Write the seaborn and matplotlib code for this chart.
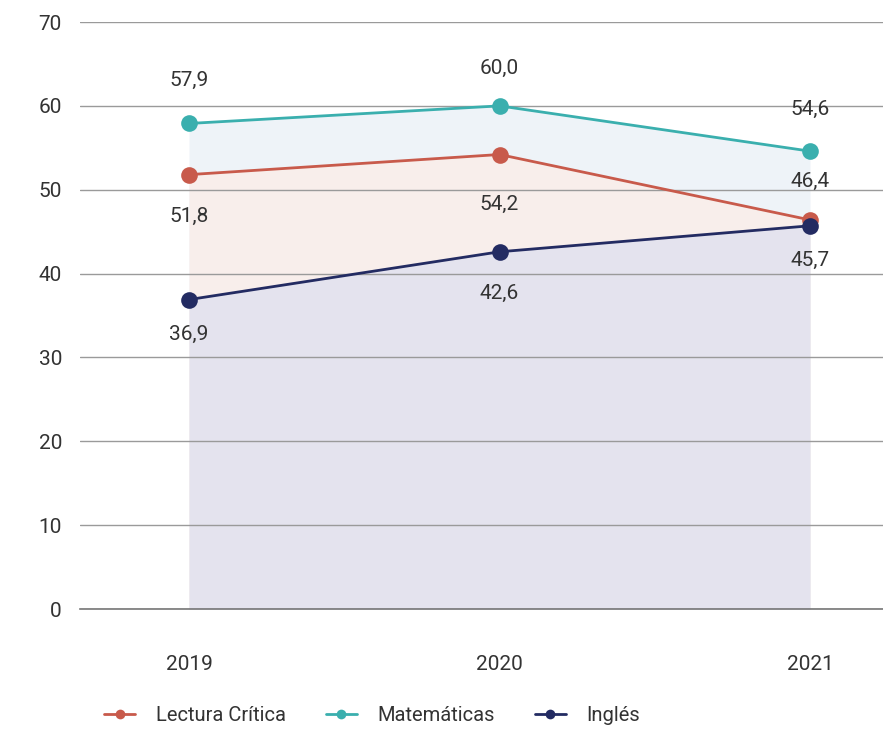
import matplotlib
matplotlib.use('Agg')
import matplotlib.pyplot as plt
import pandas as pd
import seaborn as sns


# Data
years = ['2019', '2020', '2021']
lectura = [51.8, 54.2, 46.4]
matematicas = [57.9, 60.0, 54.6]
ingles = [36.9, 42.6, 45.7]
series_names = ['Lectura Crítica', 'Matemáticas', 'Inglés']
line_colors = ['#C85A4B', '#3AAFAE', '#232B62']

df = pd.DataFrame({
    'Año': years * 3,
    'x': [0, 1, 2] * 3,
    'Puntaje': lectura + matematicas + ingles,
    'Prueba': [s for s in series_names for _ in years],
})

sns.set_theme(style='white')
plt.rcParams['font.family'] = ['Roboto', 'DejaVu Sans']

fig = plt.figure(figsize=(8.83, 7.29), dpi=100)
ax = fig.add_axes([0.0906, 0.1646, 0.9094, 0.8052])

# filled areas below each line (drawn from top series down)
fill_order = [('Matemáticas', '#EEF3F8'), ('Lectura Crítica', '#F8EEEB'), ('Inglés', '#E4E3EE')]
for name, fc in fill_order:
    sub = df[df['Prueba'] == name]
    ax.fill_between(sub['x'], 0, sub['Puntaje'], color=fc, lw=0, zorder=1)

sns.lineplot(data=df, x='x', y='Puntaje', hue='Prueba', hue_order=series_names,
             palette=line_colors, marker='o', markersize=12, markeredgewidth=0,
             linewidth=2.0, ax=ax, zorder=3)

# data labels
label_offsets = {
    'Lectura Crítica': [-30, -36, 28],
    'Matemáticas': [31, 27, 30],
    'Inglés': [-25, -30, -25],
}
for name in series_names:
    sub = df[df['Prueba'] == name]
    for (xv, yv), off in zip(zip(sub['x'], sub['Puntaje']), label_offsets[name]):
        ax.annotate(f'{yv:.1f}'.replace('.', ','), (xv, yv), xytext=(0, off),
                    textcoords='offset points', ha='center', va='center',
                    fontsize=15, color='#333333')

ax.set_ylim(0, 70)
ax.set_xlim(-0.351, 2.235)
ax.set_yticks(range(0, 71, 10))
ax.set_xticks([0, 1, 2])
ax.set_xticklabels(years)
ax.yaxis.grid(True, color='#9A9A9A', lw=1)
ax.set_axisbelow(False)
for s in ['top', 'right', 'left']:
    ax.spines[s].set_visible(False)
ax.spines['bottom'].set_color('#777777')
ax.spines['bottom'].set_linewidth(1.2)
ax.spines['bottom'].set_zorder(4)
ax.tick_params(axis='y', length=0, pad=13, labelsize=15, labelcolor='#333333')
ax.tick_params(axis='x', length=0, pad=33, labelsize=15, labelcolor='#333333')
for gl in ax.get_ygridlines():
    gl.set_zorder(2)
ax.set_xlabel('')
ax.set_ylabel('')

handles, labels = ax.get_legend_handles_labels()
ax.legend_.remove()
for h in handles:
    h.set_markersize(7)
fig.legend(handles, labels, loc='center left', bbox_to_anchor=(0.118, 0.018),
           ncol=3, frameon=False, fontsize=14.5, handlelength=1.55,
           handletextpad=1.0, columnspacing=2.0, labelcolor='#333333',
           borderaxespad=0, borderpad=0)

fig.savefig('out.png', dpi=100)
